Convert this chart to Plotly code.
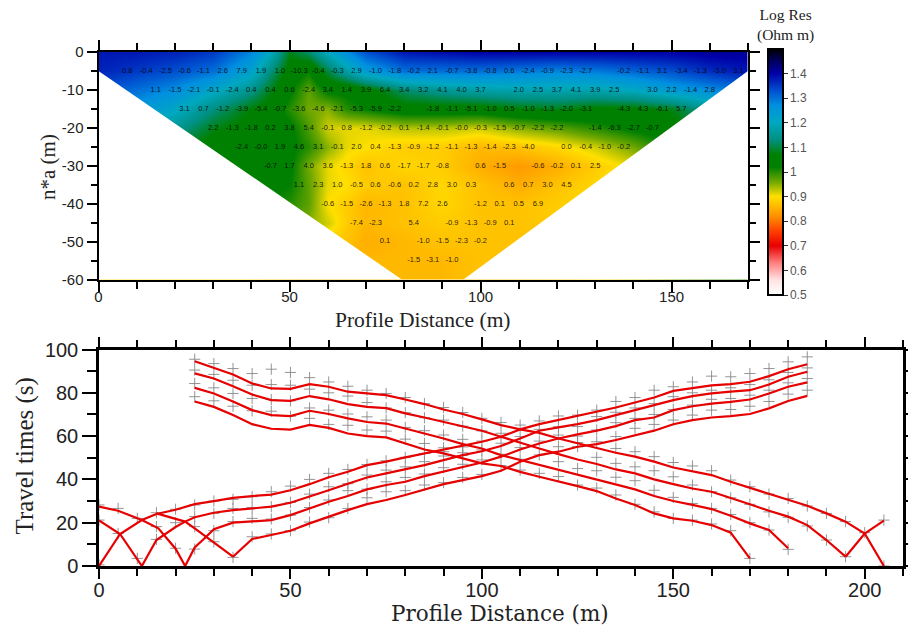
import plotly.graph_objects as go

W, H = 908, 627

# ---------- resistivity section ----------
section_x = [0, 10, 20, 30, 40, 45, 50, 55, 60, 65, 70, 80, 90, 100, 110, 120, 130, 140, 150, 160, 170]
section_depth = [0, -5, -10, -15, -20, -25, -30, -35, -40, -45, -50, -55, -60]
log_res_0 = [1.38, 1.38, 1.37, 1.35, 1.28, 1.20, 1.08, 1.12, 1.20, 1.27, 1.33, 1.38, 1.39, 1.40, 1.40, 1.40, 1.40, 1.40, 1.40, 1.41, 1.41]
log_res_1 = [1.37, 1.35, 1.33, 1.30, 1.22, 1.13, 1.05, 1.02, 1.10, 1.17, 1.24, 1.30, 1.30, 1.30, 1.29, 1.28, 1.29, 1.31, 1.33, 1.36, 1.38]
log_res_2 = [1.33, 1.30, 1.27, 1.21, 1.14, 1.08, 1.03, 0.97, 1.03, 1.03, 1.05, 1.12, 1.15, 1.17, 1.18, 1.18, 1.18, 1.20, 1.24, 1.27, 1.30]
log_res_3 = [1.27, 1.25, 1.21, 1.13, 1.07, 1.05, 1.00, 0.96, 0.95, 1.00, 1.02, 1.05, 1.05, 1.05, 1.07, 1.08, 1.06, 1.06, 1.08, 1.15, 1.22]
log_res_4 = [1.20, 1.19, 1.15, 1.08, 1.05, 1.04, 1.03, 0.98, 0.92, 0.91, 0.91, 0.93, 0.93, 0.92, 0.95, 0.97, 1.00, 1.03, 1.05, 1.10, 1.15]
log_res_5 = [1.10, 1.10, 1.08, 1.05, 1.03, 1.03, 1.03, 1.00, 0.95, 0.91, 0.90, 0.88, 0.88, 0.86, 0.87, 0.89, 0.92, 0.96, 1.02, 1.06, 1.10]
log_res_6 = [1.05, 1.05, 1.05, 1.04, 1.03, 1.03, 1.03, 0.96, 0.91, 0.89, 0.87, 0.89, 0.88, 0.85, 0.83, 0.85, 0.88, 0.91, 0.97, 1.03, 1.05]
log_res_7 = [1.04, 1.04, 1.04, 1.04, 1.03, 1.03, 1.02, 0.97, 0.91, 0.90, 0.88, 0.87, 0.89, 0.87, 0.85, 0.87, 0.89, 0.91, 0.95, 1.00, 1.02]
log_res_8 = [1.03, 1.03, 1.03, 1.03, 1.03, 1.02, 1.00, 0.97, 0.90, 0.88, 0.86, 0.87, 0.89, 0.87, 0.87, 0.88, 0.90, 0.91, 0.95, 0.98, 1.00]
log_res_9 = [1.00, 1.00, 1.00, 1.00, 1.00, 1.00, 0.98, 0.95, 0.92, 0.88, 0.86, 0.87, 0.88, 0.87, 0.87, 0.88, 0.90, 0.92, 0.95, 0.98, 1.00]
log_res_10 = [0.95, 0.95, 0.95, 0.95, 0.95, 0.93, 0.92, 0.90, 0.88, 0.87, 0.85, 0.86, 0.87, 0.87, 0.87, 0.88, 0.90, 0.92, 0.95, 0.98, 1.00]
log_res_11 = [0.90, 0.90, 0.90, 0.90, 0.90, 0.88, 0.87, 0.86, 0.86, 0.86, 0.86, 0.86, 0.86, 0.87, 0.87, 0.88, 0.90, 0.92, 0.95, 0.98, 1.00]
log_res_12 = [0.90, 0.90, 0.90, 0.90, 0.90, 0.88, 0.87, 0.86, 0.86, 0.86, 0.86, 0.86, 0.86, 0.87, 0.87, 0.88, 0.90, 0.92, 0.95, 0.98, 1.00]
section_z = [log_res_0, log_res_1, log_res_2, log_res_3, log_res_4, log_res_5, log_res_6,
             log_res_7, log_res_8, log_res_9, log_res_10, log_res_11, log_res_12]

# outline of the area without data below the pseudosection
blank_left_x = [0, 79.4, 0, 0]
blank_left_y = [-5, -60, -60, -5]
blank_right_x = [170, 95.5, 170, 170]
blank_right_y = [-5, -60, -60, -5]

# residual labels: one row per depth level, "_" where the label is absent
label_depths = [-5, -10, -15, -20, -25, -30, -35, -40, -45, -50, -55]
label_starts = [7.5, 15, 22.5, 30, 37.5, 45, 52.5, 60, 67.5, 75, 82.5]
label_rows = [
    "0.8 -0.4 -2.5 -0.6 -1.1 2.6 7.9 1.9 1.0 -10.3 -0.4 -0.3 2.9 -1.0 -1.8 -0.2 2.1 -0.7 -3.8 -0.8 0.6 -2.4 -0.9 -2.3 -2.7 _ -0.2 -1.1 3.1 -3.4 -1.3 -3.0 3.1",
    "1.1 -1.5 -2.1 -0.1 -2.4 0.4 0.4 0.6 -2.4 3.4 1.4 3.9 6.4 3.4 3.2 4.1 4.0 3.7 _ 2.0 2.5 3.7 4.1 3.9 2.5 _ 3.0 2.2 -1.4 2.8",
    "3.1 0.7 -1.2 -3.9 -5.4 -0.7 -3.6 -4.6 -2.1 -5.3 -5.9 -2.2 _ -1.8 -1.1 -5.1 -1.0 0.5 -1.0 -1.3 -2.0 -3.1 _ -4.3 4.3 -6.1 5.7",
    "2.2 -1.3 -1.8 0.2 3.8 5.4 -0.1 0.8 -1.2 -0.2 0.1 -1.4 -0.1 -0.0 -0.3 -1.5 -0.7 -2.2 -2.2 _ -1.4 -6.3 -2.7 -0.7",
    "-2.4 -0.0 1.9 4.6 3.1 -0.1 2.0 0.4 -1.3 -0.9 -1.2 -1.1 -1.3 -1.4 -2.3 -4.0 _ 0.0 -0.4 -1.0 -0.2",
    "-0.7 1.7 4.0 3.6 -1.3 1.8 0.6 -1.7 -1.7 -0.8 _ 0.6 -1.5 _ -0.6 -0.2 0.1 2.5",
    "1.1 2.3 1.0 -0.5 0.6 -0.6 0.2 2.8 3.0 0.3 _ 0.6 0.7 3.0 4.5",
    "-0.6 -1.5 -2.6 -1.3 1.8 7.2 2.6 _ -1.2 0.1 0.5 6.9",
    "-7.4 -2.3 _ 5.4 _ -0.9 -1.3 -0.9 0.1",
    "0.1 _ -1.0 -1.5 -2.3 -0.2",
    "-1.5 -3.1 -1.0",
]
label_step = 5

colorbar_vals = [0.5, 0.6, 0.7, 0.8, 0.9, 1.0, 1.1, 1.2, 1.3, 1.4]
colorbar_text = ["0.5", "0.6", "0.7", "0.8", "0.9", "1", "1.1", "1.2", "1.3", "1.4"]

# ---------- travel times ----------
grid_a = [0, 5.5, 11.2, 15, 20, 25, 30, 35, 40, 45, 50, 55, 60, 65]
rise_a = [0, 14.8, 21.2, 24, 26, 28.6, 30, 31.5, 32.3, 33, 35, 37.8, 41, 43.5]
grid_b = [11.2, 15, 20, 22.5, 25, 30, 35, 40, 45, 50, 55, 60, 65]
rise_b = [0, 12, 18, 20.5, 22.5, 24.6, 25.8, 26.5, 27.4, 29.2, 32, 35, 38]
grid_c = [22.5, 25, 28, 30, 35, 40, 45, 50, 55, 60, 65]
rise_c = [0, 8.6, 13.5, 17, 20, 20.5, 21.2, 23.5, 26.6, 29.7, 32.3]
grid_d = [35, 40, 45, 50, 55, 60, 65]
rise_d = [4.3, 12.5, 14.3, 16.3, 19.7, 22.8, 25.8]

grid_rise = [70, 75, 80, 85, 90, 95, 100, 105, 110, 115, 120, 125, 130, 135, 140, 145, 150, 155, 160, 165, 170, 175, 180, 185]
rise_a2 = [46.6, 48.2, 50.2, 52, 53.8, 55.4, 57.4, 59.7, 63.1, 65.5, 67.4, 69.2, 71.2, 73.2, 75.5, 77.8, 80.9, 82.3, 83.4, 84, 85.1, 87.7, 90.9, 93.2]
rise_b2 = [40.9, 42.8, 44.6, 46.6, 48.9, 51.2, 53, 55.4, 58.9, 62.5, 64, 65.5, 67.4, 69.7, 72, 74.3, 76.6, 78.5, 79.7, 80.5, 81.2, 83.8, 87.4, 89.7]
rise_c2 = [35.4, 37.4, 38.9, 41.5, 43.5, 45.8, 47.8, 50.5, 53.8, 56.6, 58.9, 60.8, 62.5, 64.6, 67.4, 68.6, 72, 73.8, 75, 75.8, 76.9, 79.7, 82.8, 84.8]
rise_d2 = [28.6, 30.5, 32.8, 35.4, 37.8, 39.7, 41.5, 44, 48.2, 51.2, 52.8, 55.1, 56.3, 58.2, 60.5, 62.5, 65.5, 67.4, 68.6, 69.2, 70.2, 72.8, 76.2, 78.6]

grid_fall_1 = [25, 30, 35, 40, 45, 50, 55, 60, 65, 70, 75, 80, 85, 90, 95, 100, 105, 110, 115, 120, 125, 130, 135, 140, 145, 150, 155, 160, 165, 170, 175, 180, 185, 190, 195, 200, 205]
fall_1 = [94.6, 91.7, 88.5, 84.3, 82, 81.8, 84, 82.8, 80.5, 79.7, 78.9, 76.9, 74.8, 72.3, 70.2, 67.7, 65.1, 63.1, 61.5, 58.9, 56.6, 54.3, 52.3, 50.5, 48.2, 45.5, 43.8, 42, 38.9, 36.2, 33.2, 30.8, 27.8, 24.3, 20.5, 15, 0]
grid_fall_2 = [25, 30, 35, 40, 45, 50, 55, 60, 65, 70, 75, 80, 85, 90, 95, 100, 105, 110, 115, 120, 125, 130, 135, 140, 145, 150, 155, 160, 165, 170, 175, 180, 185, 190, 195]
fall_2 = [89, 86.6, 83, 79.2, 76.6, 76.3, 78.5, 77, 74.8, 73.5, 72.9, 70.5, 68.6, 66.6, 64.3, 62.5, 59.7, 56.9, 54.3, 51.7, 49.2, 47.1, 44.6, 42.8, 40, 37.8, 35.8, 34.3, 31.5, 28.5, 25.5, 22.8, 18.9, 12, 4.3]
grid_fall_3 = [25, 30, 35, 40, 45, 50, 55, 60, 65, 70, 75, 80, 85, 90, 95, 100, 105, 110, 115, 120, 125, 130, 135, 140, 145, 150, 155, 160, 165, 170, 175, 180]
fall_3 = [82.3, 79.7, 76, 72, 69.7, 69.2, 71.7, 70.2, 68.2, 66.5, 65.8, 63.5, 61.5, 58.9, 56.3, 54.3, 51.2, 48.9, 46.6, 44.6, 42.3, 39.7, 37.7, 35.4, 32.3, 30, 28.2, 26.3, 23.2, 19.7, 16.6, 8.2]
grid_fall_4 = [25, 30, 35, 40, 45, 50, 55, 60, 65, 70, 75, 80, 85, 90, 95, 100, 105, 110, 115, 120, 125, 130, 135, 140, 145, 150, 155, 160, 165, 170]
fall_4 = [76, 73.5, 69.7, 65.5, 63.4, 63, 65.2, 63.8, 61.2, 60, 59.4, 56.6, 53.8, 52, 49.7, 47.4, 46.2, 43.5, 41.2, 39.2, 36.9, 34.6, 31.2, 28.2, 24.3, 22, 20.9, 18.9, 15.4, 3.5]

left_fall_1_x = [0, 5, 11.2, 15.5, 20, 22.5]
left_fall_1 = [27.4, 25.5, 21.2, 17.4, 8, 0]
left_fall_2_x = [0, 5.5, 11.2]
left_fall_2 = [21, 14.8, 0]
left_fall_3_x = [15, 22.5, 25, 28, 35]
left_fall_3 = [24.3, 20.5, 17.4, 13.5, 4.3]
right_rise_x = [195, 200, 205]
right_rise = [4.3, 15, 21]

# picked arrival times, grouped by profile position
pick_positions = [0, 5, 10, 15, 20, 25, 30, 35, 40, 45, 50, 55, 60, 65, 70, 75, 80, 85, 90, 95,
                  100, 105, 110, 115, 120, 125, 130, 135, 140, 145, 150, 155, 160, 165, 170,
                  175, 180, 185, 190, 195, 200, 205]
pick_times = [
    [28.2, 21.2, 0.5],
    [26.6, 15],
    [22, 3.5],
    [24.6, 18.2, 12.3],
    [26.2, 20, 8.2],
    [95.5, 90.5, 84.3, 78.2, 28.2, 22.8, 18.2, 7.8],
    [93.5, 88.5, 82.3, 76.3, 30, 24.3, 16.3, 11.2],
    [91.2, 85.8, 79.7, 73.8, 30.8, 26.6, 20.5, 4],
    [88.9, 83.5, 77.4, 71.7, 32, 27, 22, 13.5],
    [90.9, 83.8, 76.9, 71.5, 34.3, 27.4, 21.7, 14.8],
    [89.4, 83.5, 76.3, 69.2, 36.9, 29.4, 23.5, 16.3],
    [87, 81.7, 73, 68.2, 40, 33.2, 27, 20.3],
    [85, 80, 72, 65.4, 42.8, 36.6, 30.5, 22.3],
    [83, 78.5, 70.2, 65, 44.6, 38, 34.8, 26.6],
    [81.2, 75.5, 68.9, 62.8, 46.9, 42, 35.5, 31.5],
    [79.7, 73, 67.4, 62.3, 48.6, 44.3, 38.9, 34.3],
    [77.8, 70.8, 64, 58.6, 50.2, 45.8, 40.9, 34.8],
    [75, 68.5, 62.5, 56.6, 52, 48.2, 42.5, 37.4],
    [73.2, 67.4, 60.5, 54.6, 52.8, 50.8, 45.4, 38.5],
    [70.9, 64.6, 58.5, 55, 52.3, 47, 40.9, 51],
    [68.2, 62.4, 57.7, 53.6, 49, 42.3],
    [66.3, 61.3, 56.7, 51.6, 46.4],
    [65.1, 59.8, 54.7, 49.3, 44.3],
    [67, 63.1, 57.7, 51.3, 42.8],
    [69.3, 64.3, 60.5, 55.1, 48.2, 41.3],
    [69.7, 64.4, 60, 57, 55.1, 45, 37.4],
    [72, 69, 62.8, 57.4, 50.2, 44, 36],
    [76, 71, 66.2, 59.8, 54.3, 47.4, 41, 32.8],
    [77.8, 73, 68.2, 63.6, 52.8, 45.8, 39.4, 28.5],
    [81.2, 75, 70, 65.4, 50.5, 44, 35, 25],
    [82.8, 78.2, 72.3, 67.4, 47.8, 41.2, 31.7, 22],
    [85, 80, 74.3, 69.7, 46.2, 37.4, 28.9, 21.2],
    [87.7, 81.2, 77, 72, 44, 34.3, 26.6, 19.4],
    [87.4, 82.3, 77.4, 72.3, 39.7, 31.5, 23.8, 16.3],
    [88.9, 83.8, 78.9, 73.8, 36.6, 28.5, 20, 3.5],
    [91.2, 86, 81.2, 76, 33.2, 25, 16.6],
    [94.3, 89.4, 84.6, 79.4, 31.2, 22.5, 7.7],
    [96.6, 91.5, 86.6, 81.2, 27.7, 18.5],
    [24.3, 12],
    [20.5, 4.3],
    [15.4],
    [21.2, 0],
]

COLORSCALE_STOPS = [
    (0.5, "#ffffff"), (0.56, "#ffe4e4"), (0.63, "#ff8080"), (0.70, "#e80000"), (0.76, "#ff4000"),
    (0.82, "#ff9000"), (0.90, "#ffe000"), (0.96, "#70a800"), (1.02, "#008000"), (1.07, "#008000"),
    (1.13, "#009080"), (1.20, "#00a8c0"), (1.27, "#0090e0"), (1.33, "#0050d0"), (1.40, "#0000a8"),
    (1.45, "#000060"), (1.5, "#000000"),
]
colorscale = [[(v - 0.5) / 1.0, c] for v, c in COLORSCALE_STOPS]

SERIF = "Liberation Serif"
WIDE_SERIF = "DejaVu Serif"
SANS = "Liberation Sans"
RED = "#e60000"

fig = go.Figure()
fig.add_trace(go.Heatmap(
    x=section_x, y=section_depth, z=section_z, zmin=0.5, zmax=1.5, zsmooth="best",
    colorscale=colorscale, hoverinfo="skip",
    colorbar=dict(
        x=767.7 / W, xanchor="left", xpad=0, ypad=0, thickness=15,
        y=(H - 295) / H, yanchor="bottom", len=(295 - 49) / H, lenmode="fraction",
        outlinecolor="black", outlinewidth=2, ticks="outside", ticklen=4, tickwidth=1,
        tickcolor="#333", tickvals=colorbar_vals, ticktext=colorbar_text,
        tickfont=dict(family=SANS, size=12, color="#555"),
    ),
))
for bx, by in [(blank_left_x, blank_left_y), (blank_right_x, blank_right_y)]:
    fig.add_trace(go.Scatter(x=bx, y=by, mode="lines", fill="toself", fillcolor="white",
                             line=dict(width=0, color="white"), hoverinfo="skip"))

lx, ly, lt = [], [], []
for depth, start, row in zip(label_depths, label_starts, label_rows):
    for i, tok in enumerate(row.split()):
        if tok != "_":
            lx.append(start + i * label_step)
            ly.append(depth)
            lt.append(tok)
fig.add_trace(go.Scatter(x=lx, y=ly, text=lt, mode="text", textposition="middle center",
                         textfont=dict(family=SANS, size=7.5, color="rgba(0,0,0,0.85)"),
                         hoverinfo="skip"))

px, py = [], []
for pos, times in zip(pick_positions, pick_times):
    for t in times:
        px.append(pos)
        py.append(t)
fig.add_trace(go.Scatter(x=px, y=py, xaxis="x2", yaxis="y2", mode="markers",
                         marker=dict(symbol="cross-thin", size=8, color="#888",
                                     line=dict(width=0.9, color="#888"))))

line_sets = [
    (grid_a + grid_rise, rise_a + rise_a2), (grid_b + grid_rise, rise_b + rise_b2),
    (grid_c + grid_rise, rise_c + rise_c2), (grid_d + grid_rise, rise_d + rise_d2),
    (grid_fall_1, fall_1), (grid_fall_2, fall_2), (grid_fall_3, fall_3), (grid_fall_4, fall_4),
    (left_fall_1_x, left_fall_1), (left_fall_2_x, left_fall_2), (left_fall_3_x, left_fall_3),
    (right_rise_x, right_rise),
]
for lxs, lys in line_sets:
    fig.add_trace(go.Scatter(x=lxs, y=lys, xaxis="x2", yaxis="y2", mode="lines",
                             line=dict(color=RED, width=2.2)))

top_axis = dict(showgrid=False, zeroline=False, showline=True, linecolor="black", linewidth=2,
                mirror="ticks", ticks="outside", tickcolor="black", tickwidth=2, ticklen=10,
                automargin=False, tickfont=dict(family=SANS, size=15, color="#222"))
bottom_axis = dict(showgrid=False, zeroline=False, showline=True, linecolor="black", linewidth=2.5,
                   mirror="ticks", ticks="outside", tickcolor="black", tickwidth=2, ticklen=10,
                   automargin=False, tickfont=dict(family=SANS, size=20, color="#222"))


def title_note(text, x, y, size, angle=0, family=SERIF):
    return dict(text=text, xref="paper", yref="paper", x=x / W, y=1 - y / H,
                xanchor="center", yanchor="middle", showarrow=False, textangle=angle,
                font=dict(family=family, size=size, color="#222"))


fig.update_layout(
    width=W, height=H, margin=dict(l=0, r=0, t=0, b=0, autoexpand=False), showlegend=False,
    paper_bgcolor="white", plot_bgcolor="white",
    xaxis=dict(top_axis, domain=[98.5 / W, 748 / W], range=[0, 170], anchor="y",
               tickvals=[0, 50, 100, 150], ticktext=["0", "50", "100", "150"], ticklabelstandoff=-8,
               minor=dict(dtick=10, ticks="outside", ticklen=7, tickwidth=2, tickcolor="black", showgrid=False)),
    yaxis=dict(top_axis, domain=[1 - 279.5 / H, 1 - 52 / H], range=[-60, 0], anchor="x",
               tickvals=[0, -10, -20, -30, -40, -50, -60],
               ticktext=["0", "-10", "-20", "-30", "-40", "-50", "-60"],
               minor=dict(dtick=5, ticks="outside", ticklen=6, tickwidth=2, tickcolor="black", showgrid=False)),
    xaxis2=dict(bottom_axis, domain=[99 / W, 903 / W], range=[0, 210], anchor="y2",
                tickvals=[0, 50, 100, 150, 200], ticktext=["0", "50", "100", "150", "200"], ticklabelstandoff=-6,
                minor=dict(dtick=10, ticks="outside", ticklen=7, tickwidth=2, tickcolor="black", showgrid=False)),
    yaxis2=dict(bottom_axis, domain=[1 - 566 / H, 1 - 349.5 / H], range=[0, 100], anchor="x2",
                tickvals=[0, 20, 40, 60, 80, 100], ticktext=["0", "20", "40", "60", "80", "100"],
                ticklen=14,
                minor=dict(dtick=10, ticks="outside", ticklen=9, tickwidth=2, tickcolor="black", showgrid=False)),
    annotations=[
        title_note("Log Res<br>(Ohm m)", 785, 25, 15.5),
        title_note("Profile Distance (m)", 423, 320, 21.5),
        title_note("Profile Distance (m)", 499.5, 613, 21.5, family=WIDE_SERIF),
        title_note("n*a (m)", 48, 167, 21, -90),
        title_note("Travel times (s)", 24.5, 456, 25, -90),
    ],
)

fig.write_html("out.html", post_script="document.body.style.margin='0';",
               config={"displayModeBar": False})
